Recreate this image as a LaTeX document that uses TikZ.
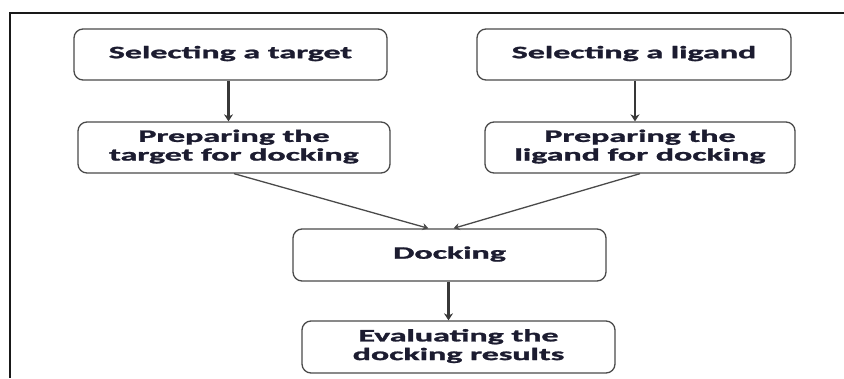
\documentclass[tikz,border=0pt]{standalone}
\usepackage{fontspec}
\usepackage{graphicx}
\setmainfont{Carlito}[BoldFeatures={FakeBold=1.2}]
\usetikzlibrary{arrows.meta,calc}
\definecolor{txt}{HTML}{1C1C30}
\definecolor{edge}{HTML}{4A4A4A}
\definecolor{vedge}{HTML}{383838}
\newcommand\boxtext[1]{\scalebox{1.94}[1]{\begin{tabular}{@{}c@{}}#1\end{tabular}}}
\begin{document}
\begin{tikzpicture}[x=1pt,y=-1pt,
  stepbox/.style={draw=edge,line width=1.3pt,rounded corners=9pt,fill=white,
    minimum width=312pt,minimum height=51pt,inner sep=0pt,
    font=\fontsize{17.5}{18.7}\selectfont\bfseries,text=txt},
  flow/.style={draw=edge,line width=1.3pt,-{Stealth[length=6pt,width=7pt]}},
  vflow/.style={draw=vedge,line width=2.4pt,-{Stealth[length=7pt,width=9pt]}},
  frame/.style={draw=black!90,line width=2pt}]
\useasboundingbox (0,0) rectangle (844,378);
\draw[frame] (844,13) -- (10,13) -- (10,378);
\node[stepbox,minimum width=313pt] (b1) at (230.5,54.5) {\boxtext{Selecting a target}};
\node[stepbox] (b2) at (234,147.5) {\boxtext{Preparing the\\target for docking}};
\node[stepbox,minimum width=314pt] (b3) at (634,54.5) {\boxtext{Selecting a ligand}};
\node[stepbox,minimum width=310pt] (b4) at (640,147.5) {\boxtext{Preparing the\\ligand for docking}};
\node[stepbox,minimum width=313pt,minimum height=52pt] (dock) at (449.5,255) {\boxtext{Docking}};
\node[stepbox,minimum width=313pt,minimum height=52pt] (eval) at (458.5,347) {\boxtext{Evaluating the\\docking results}};
\coordinate (s1) at ($(b1.south)+(-2,0)$);
\coordinate (s3) at ($(b3.south)+(1,0)$);
\coordinate (s5) at ($(dock.south)+(-1,0)$);
\coordinate (t2) at ($(dock.north)+(-21,0)$);
\coordinate (t4) at ($(dock.north)+(4,0)$);
\draw[vflow] (s1) -- (s1 |- b2.north);
\draw[vflow] (s3) -- (s3 |- b4.north);
\draw[flow] (b2.south) -- (t2);
\draw[flow] (b4.south) -- (t4);
\draw[vflow] (s5) -- (s5 |- eval.north);
\end{tikzpicture}
\end{document}
